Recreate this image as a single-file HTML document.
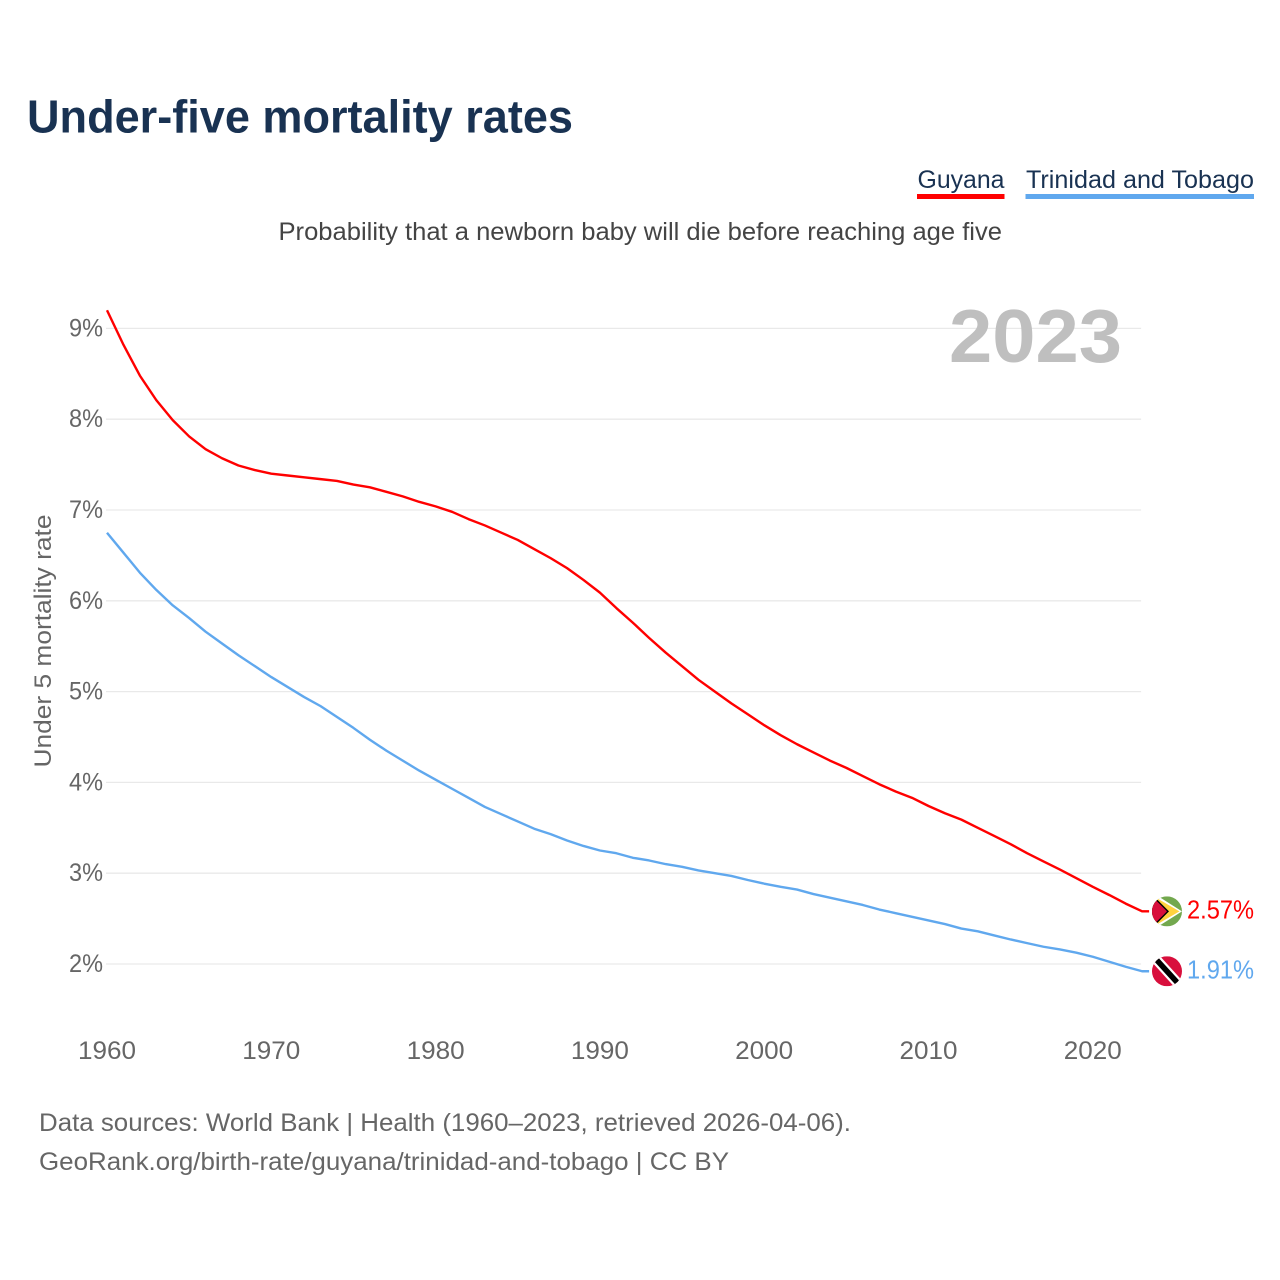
<!DOCTYPE html>
<html lang="en">
<head>
<meta charset="utf-8">
<title>Under-five mortality rates</title>
<style>
html,body{margin:0;padding:0;background:#fff;width:1280px;height:1280px;overflow:hidden}
svg{display:block}
text{font-family:"Liberation Sans","DejaVu Sans",sans-serif}
</style>
</head>
<body>
<svg xmlns="http://www.w3.org/2000/svg" width="1280" height="1280" viewBox="0 0 1280 1280">
<rect width="1280" height="1280" fill="#fff"/>
<defs>
<clipPath id="flag-clip"><circle cx="0" cy="0" r="15"/></clipPath>
</defs>
<text x="27" y="132.500" font-size="46" font-weight="700" fill="#193252" textLength="546" lengthAdjust="spacingAndGlyphs">Under-five mortality rates</text>
<g>
<g>
<text x="917.5" y="188" font-size="25" fill="#193252" textLength="87" lengthAdjust="spacingAndGlyphs">Guyana</text>
<rect x="917" y="194" width="87.500" height="5" fill="#ff0000"/>
</g>
<g>
<text x="1026" y="188" font-size="25" fill="#193252" textLength="228" lengthAdjust="spacingAndGlyphs">Trinidad and Tobago</text>
<rect x="1025.5" y="194" width="228.5" height="5" fill="#60a8ee"/>
</g>
</g>
<text x="278.500" y="240" font-size="25" fill="#444" textLength="723.500" lengthAdjust="spacingAndGlyphs">Probability that a newborn baby will die before reaching age five</text>
<g id="grid"></g>
<text x="949" y="362" font-size="75" font-weight="700" fill="#bfbfbf" textLength="173" lengthAdjust="spacingAndGlyphs">2023</text>
<g id="y-ticks"></g>
<g id="x-ticks"></g>
<text transform="translate(51,641) rotate(-90)" text-anchor="middle" font-size="24" fill="#666" textLength="253" lengthAdjust="spacingAndGlyphs">Under 5 mortality rate</text>
<g id="series"></g>
<g id="flag-guyana">
<g clip-path="url(#flag-clip)">
<rect x="-15" y="-15" width="30" height="30" fill="#73a84e"/>
<path d="M-15,-19 L15,0 L-15,19 Z" fill="#fff"/>
<path d="M-15,-16 L12.5,0 L-15,16 Z" fill="#ffd23f"/>
<path d="M-15,-17 L2,0 L-15,17 Z" fill="#000"/>
<path d="M-15,-15 L0,0 L-15,15 Z" fill="#d80f3c"/>
</g>
</g>
<g id="flag-trinidad">
<g clip-path="url(#flag-clip)">
<rect x="-15" y="-15" width="30" height="30" fill="#d80f3c"/>
<path d="M-15,-16.500 L15,16.500" stroke="#fff" stroke-width="10"/>
<path d="M-15,-16.500 L15,16.500" stroke="#000" stroke-width="5.500"/>
</g>
</g>
<g id="end-labels"></g>
<text x="39" y="1131" font-size="25" fill="#666" textLength="812" lengthAdjust="spacingAndGlyphs">Data sources: World Bank | Health (1960–2023, retrieved 2026-04-06).</text>
<text x="39" y="1170" font-size="25" fill="#666" textLength="690" lengthAdjust="spacingAndGlyphs">GeoRank.org/birth-rate/guyana/trinidad-and-tobago | CC BY</text>
</svg>
<script>
var years = [];
for (var yr = 1960; yr <= 2023; yr++) { years.push(yr); }
var guyanaValues = [9.20,8.82,8.48,8.21,7.99,7.81,7.67,7.57,7.49,7.44,7.40,7.38,7.36,7.34,7.32,7.28,7.25,7.20,7.15,7.09,7.04,6.98,6.90,6.83,6.75,6.67,6.57,6.47,6.36,6.23,6.09,5.92,5.76,5.59,5.43,5.28,5.13,5.00,4.87,4.75,4.63,4.52,4.42,4.33,4.24,4.16,4.07,3.98,3.90,3.83,3.74,3.66,3.59,3.50,3.41,3.32,3.22,3.13,3.04,2.945,2.85,2.76,2.665,2.58];
var trinidadValues = [6.75,6.53,6.31,6.12,5.95,5.81,5.66,5.53,5.40,5.28,5.16,5.05,4.94,4.84,4.72,4.60,4.47,4.35,4.24,4.13,4.03,3.93,3.83,3.73,3.65,3.57,3.49,3.43,3.36,3.30,3.25,3.22,3.17,3.14,3.10,3.07,3.03,3.00,2.97,2.925,2.885,2.85,2.82,2.77,2.73,2.69,2.65,2.60,2.56,2.52,2.48,2.44,2.39,2.36,2.315,2.27,2.23,2.19,2.16,2.125,2.08,2.025,1.97,1.92];
var yTickValues = [2,3,4,5,6,7,8,9];
var xTickValues = [1960,1970,1980,1990,2000,2010,2020];
var endLabels = ["2.57%","1.91%"];

var NS = 'http://www.w3.org/2000/svg';
function xScale(year) { return 107 + (year - 1960) * 16.43; }
function yScale(value) { return 964 - (value - 2) * 90.8; }
function make(tag, parent) {
  var el = document.createElementNS(NS, tag);
  parent.appendChild(el);
  return el;
}

var gridGroup = document.getElementById('grid');
var yTickGroup = document.getElementById('y-ticks');
yTickValues.forEach(function (v) {
  var line = make('line', gridGroup);
  
  
  line.setAttribute('x1', xScale(1960) - 1);
  line.setAttribute('x2', xScale(2023) - 1);
  line.setAttribute('y1', yScale(v));
  line.setAttribute('y2', yScale(v));
  line.setAttribute('stroke', '#e9e9e9');
  line.setAttribute('stroke-width', '1.3');
  var label = make('text', yTickGroup);
  
  
  label.setAttribute('x', 103);
  label.setAttribute('y', yScale(v) + 8);
  label.setAttribute('text-anchor', 'end');
  label.setAttribute('font-size', '25');
  label.setAttribute('fill', '#666');
  label.setAttribute('textLength', '34');
  label.setAttribute('lengthAdjust', 'spacingAndGlyphs');
  label.textContent = v + '%';
});

var xTickGroup = document.getElementById('x-ticks');
xTickValues.forEach(function (y) {
  var label = make('text', xTickGroup);
  
  
  label.setAttribute('x', xScale(y));
  label.setAttribute('y', 1059);
  label.setAttribute('text-anchor', 'middle');
  label.setAttribute('font-size', '25');
  label.setAttribute('fill', '#666');
  label.setAttribute('textLength', '58');
  label.setAttribute('lengthAdjust', 'spacingAndGlyphs');
  label.textContent = y;
});

function linePath(values) {
  var d = '';
  values.forEach(function (v, i) {
    d += (i ? 'L' : 'M') + xScale(years[i]).toFixed(2) + ',' + yScale(v).toFixed(2);
  });
  var last = values[values.length - 1];
  d += 'L' + (xScale(years[years.length - 1]) + 7).toFixed(2) + ',' + yScale(last).toFixed(2);
  return d;
}
var seriesGroup = document.getElementById('series');
var guyanaLine = make('path', seriesGroup);


guyanaLine.setAttribute('d', linePath(guyanaValues));
guyanaLine.setAttribute('fill', 'none');
guyanaLine.setAttribute('stroke', '#ff0000');
guyanaLine.setAttribute('stroke-width', '2.4');
guyanaLine.setAttribute('stroke-linejoin', 'round');
var trinidadLine = make('path', seriesGroup);


trinidadLine.setAttribute('d', linePath(trinidadValues));
trinidadLine.setAttribute('fill', 'none');
trinidadLine.setAttribute('stroke', '#60a8ee');
trinidadLine.setAttribute('stroke-width', '2.4');
trinidadLine.setAttribute('stroke-linejoin', 'round');

var flagX = xScale(2023) + 24.9;
var guyanaEndY = yScale(guyanaValues[guyanaValues.length - 1]);
var trinidadEndY = yScale(trinidadValues[trinidadValues.length - 1]);
document.getElementById('flag-guyana').setAttribute('transform', 'translate(' + flagX + ',' + guyanaEndY + ')');
document.getElementById('flag-trinidad').setAttribute('transform', 'translate(' + flagX + ',' + trinidadEndY + ')');

var endGroup = document.getElementById('end-labels');
var guyanaEnd = make('text', endGroup);


guyanaEnd.setAttribute('x', 1187);
guyanaEnd.setAttribute('y', guyanaEndY + 7);
guyanaEnd.setAttribute('font-size', '26');
guyanaEnd.setAttribute('fill', '#ff0000');
guyanaEnd.setAttribute('textLength', '67');
guyanaEnd.setAttribute('lengthAdjust', 'spacingAndGlyphs');
guyanaEnd.textContent = endLabels[0];
var trinidadEnd = make('text', endGroup);


trinidadEnd.setAttribute('x', 1187);
trinidadEnd.setAttribute('y', trinidadEndY + 7);
trinidadEnd.setAttribute('font-size', '26');
trinidadEnd.setAttribute('fill', '#60a8ee');
trinidadEnd.setAttribute('textLength', '67');
trinidadEnd.setAttribute('lengthAdjust', 'spacingAndGlyphs');
trinidadEnd.textContent = endLabels[1];
</script>
</body>
</html>
